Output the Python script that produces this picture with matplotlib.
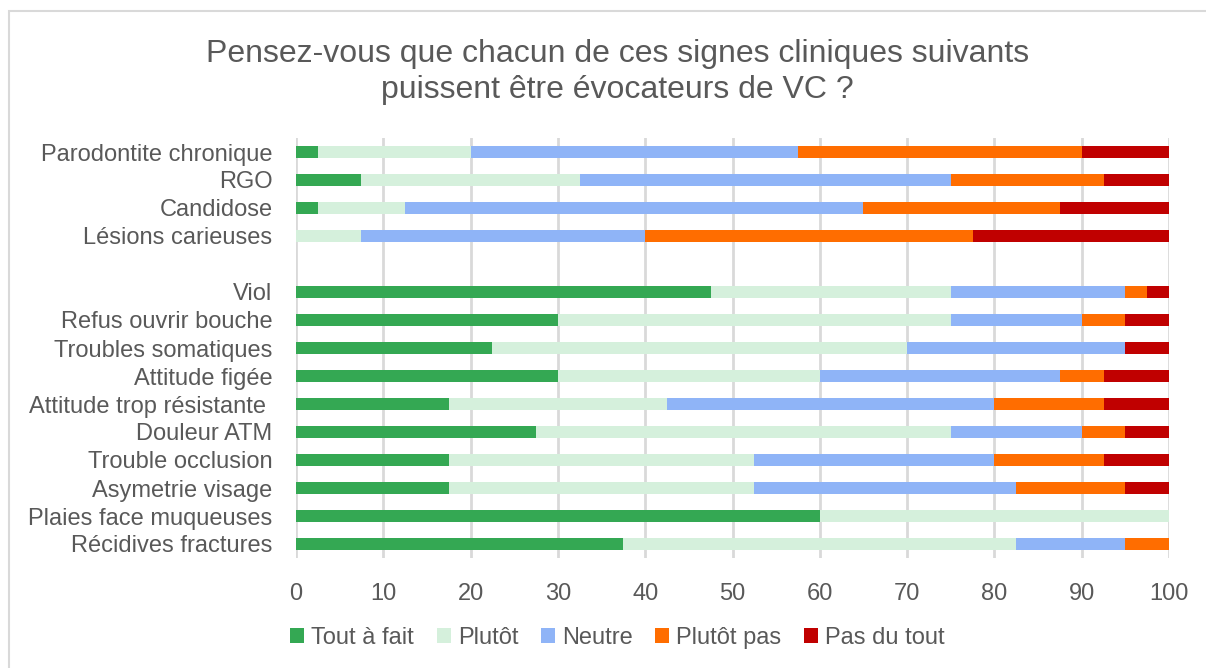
import matplotlib
matplotlib.use("Agg")
import matplotlib.pyplot as plt
from matplotlib.patches import Rectangle

plt.rcParams['font.family'] = ['Liberation Sans', 'DejaVu Sans']

# categories, top to bottom ("" = empty spacer row)
categories = ["Parodontite chronique", "RGO", "Candidose", "Lésions carieuses", "",
              "Viol", "Refus ouvrir bouche", "Troubles somatiques", "Attitude figée",
              "Attitude trop résistante ", "Douleur ATM", "Trouble occlusion",
              "Asymetrie visage", "Plaies face muqueuses", "Récidives fractures"]

tout_a_fait = [2.5, 7.5, 2.5, 0, 0, 47.5, 30, 22.5, 30, 17.5, 27.5, 17.5, 17.5, 60, 37.5]
plutot      = [17.5, 25, 10, 7.5, 0, 27.5, 45, 47.5, 30, 25, 47.5, 35, 35, 40, 45]
neutre      = [37.5, 42.5, 52.5, 32.5, 0, 20, 15, 25, 27.5, 37.5, 15, 27.5, 30, 0, 12.5]
plutot_pas  = [32.5, 17.5, 22.5, 37.5, 0, 2.5, 5, 0, 5, 12.5, 5, 12.5, 12.5, 0, 5]
pas_du_tout = [10, 7.5, 12.5, 22.5, 0, 2.5, 5, 5, 7.5, 7.5, 5, 7.5, 5, 0, 0]

series = [("Tout à fait", tout_a_fait, "#34a853"),
          ("Plutôt", plutot, "#d5f0dc"),
          ("Neutre", neutre, "#8fb4f7"),
          ("Plutôt pas", plutot_pas, "#ff6d00"),
          ("Pas du tout", pas_du_tout, "#c00000")]

fig = plt.figure(figsize=(12.06, 6.68), dpi=100)
ax = fig.add_axes([296/1206, 1 - 558/668, 873/1206, 420/668])

ypos = list(range(len(categories)))
left = [0] * len(categories)
for name, vals, col in series:
    ax.barh(ypos, vals, left=left, height=0.4, color=col, label=name, zorder=3)
    left = [a + b for a, b in zip(left, vals)]

ax.set_ylim(len(categories) - 0.5, -0.5)
ax.set_xlim(0, 100)
ax.set_xticks(range(0, 101, 10))
ax.set_yticks(ypos)
ax.set_yticklabels(categories)
ax.tick_params(axis='both', length=0, labelsize=17, labelcolor="#595959")
ax.tick_params(axis='x', pad=18)
ax.tick_params(axis='y', pad=17)
ax.grid(axis='x', color="#d9d9d9", linewidth=2, zorder=0)
for s in ax.spines.values():
    s.set_visible(False)

fig.text(0.512, 1 - 72/668, "Pensez-vous que chacun de ces signes cliniques suivants\npuissent être évocateurs de VC ?",
         ha='center', va='center', fontsize=23, color="#595959", linespacing=1.3)

fig.legend(loc='center', bbox_to_anchor=(0.512, 1 - 638/668), ncol=5, frameon=False,
           fontsize=17, labelcolor="#595959", handlelength=0.6, handleheight=0.6,
           handletextpad=0.3, columnspacing=0.95)

fig.patches.append(Rectangle((9/1206, -0.01), 1.1, 1 - 11/668 + 0.01, transform=fig.transFigure,
                             fill=False, edgecolor="#d9d9d9", linewidth=1.5))

fig.savefig("out.png", dpi=100)
